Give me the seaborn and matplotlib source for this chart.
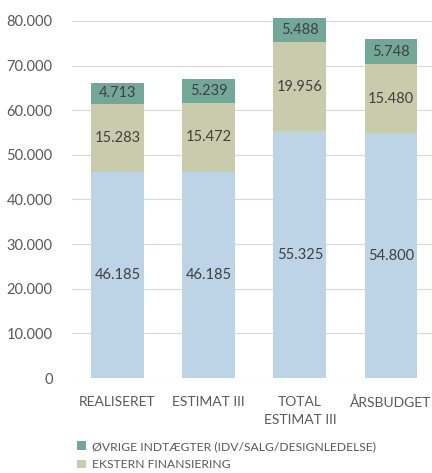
import matplotlib
matplotlib.use("Agg")
import matplotlib.pyplot as plt
import seaborn as sns
import pandas as pd
import numpy as np
from matplotlib.patches import Patch

categories = ["REALISERET", "ESTIMAT III", "TOTAL\nESTIMAT III", "ÅRSBUDGET"]
base_values = [46185, 46185, 55325, 54800]
ekstern = [15283, 15472, 19956, 15480]
oevrige = [4713, 5239, 5488, 5748]
yticks = [0, 10000, 20000, 30000, 40000, 50000, 60000, 70000, 80000]
legend_labels = ["ØVRIGE INDTÆGTER (IDV/SALG/DESIGNLEDELSE)", "EKSTERN FINANSIERING"]

c_base = "#BDD3E6"
c_ext = "#CACBAC"
c_oev = "#73A898"
txt = "#404040"
tick_c = "#595959"

sns.set_theme(style="white")
plt.rcParams["font.family"] = ["Lato", "DejaVu Sans"]

df = pd.DataFrame({"cat": categories, "base": base_values, "ext": ekstern, "oev": oevrige})
df["top_ext"] = df["base"] + df["ext"]
df["top_all"] = df["top_ext"] + df["oev"]

fig = plt.figure(figsize=(4.32, 4.73), dpi=100)
ax = fig.add_axes([72/432, 95/473, 1 - 72/432, (473 - 17.4)/473 - 95/473])

w = 0.58
for col, c in [("top_all", c_oev), ("top_ext", c_ext), ("base", c_base)]:
    sns.barplot(data=df, x="cat", y=col, color=c, width=w, ax=ax, saturation=1,
                linewidth=0, edgecolor="none")

def fmt(v):
    return f"{v:,}".replace(",", ".")

for i, r in df.iterrows():
    ax.text(i, r["base"] / 2, fmt(r["base"]), ha="center", va="center", fontsize=10.5, color=txt)
    ax.text(i, r["base"] + r["ext"] / 2, fmt(r["ext"]), ha="center", va="center", fontsize=10.5, color=txt)
    ax.text(i, r["top_ext"] + r["oev"] / 2, fmt(r["oev"]), ha="center", va="center", fontsize=10.5, color=txt)

ax.set_ylim(0, 80800)
ax.set_xlim(-0.5, 3.45)
ax.set_yticks(yticks)
ax.set_yticklabels([fmt(v) for v in yticks])
ax.yaxis.grid(True, color="#D9D9D9", linewidth=0.8)
ax.set_axisbelow(True)
for s in ax.spines.values():
    s.set_visible(False)
ax.tick_params(axis="both", length=0, colors=tick_c)
ax.tick_params(axis="y", pad=14, labelsize=10.5)
ax.tick_params(axis="x", pad=13, labelsize=10)
ax.set_xlabel("")
ax.set_ylabel("")
for lbl in ax.get_xticklabels():
    lbl.set_linespacing(1.55)

handles = [Patch(facecolor=c_oev, edgecolor="none"), Patch(facecolor=c_ext, edgecolor="none")]
fig.legend(handles, legend_labels, loc="upper left", bbox_to_anchor=(77/432, 1 - 441/473),
           frameon=False, fontsize=8.7, labelcolor=tick_c, handlelength=0.75, handleheight=0.75,
           handletextpad=0.5, labelspacing=0.6, borderpad=0, borderaxespad=0)

fig.savefig("out.png", dpi=100)
